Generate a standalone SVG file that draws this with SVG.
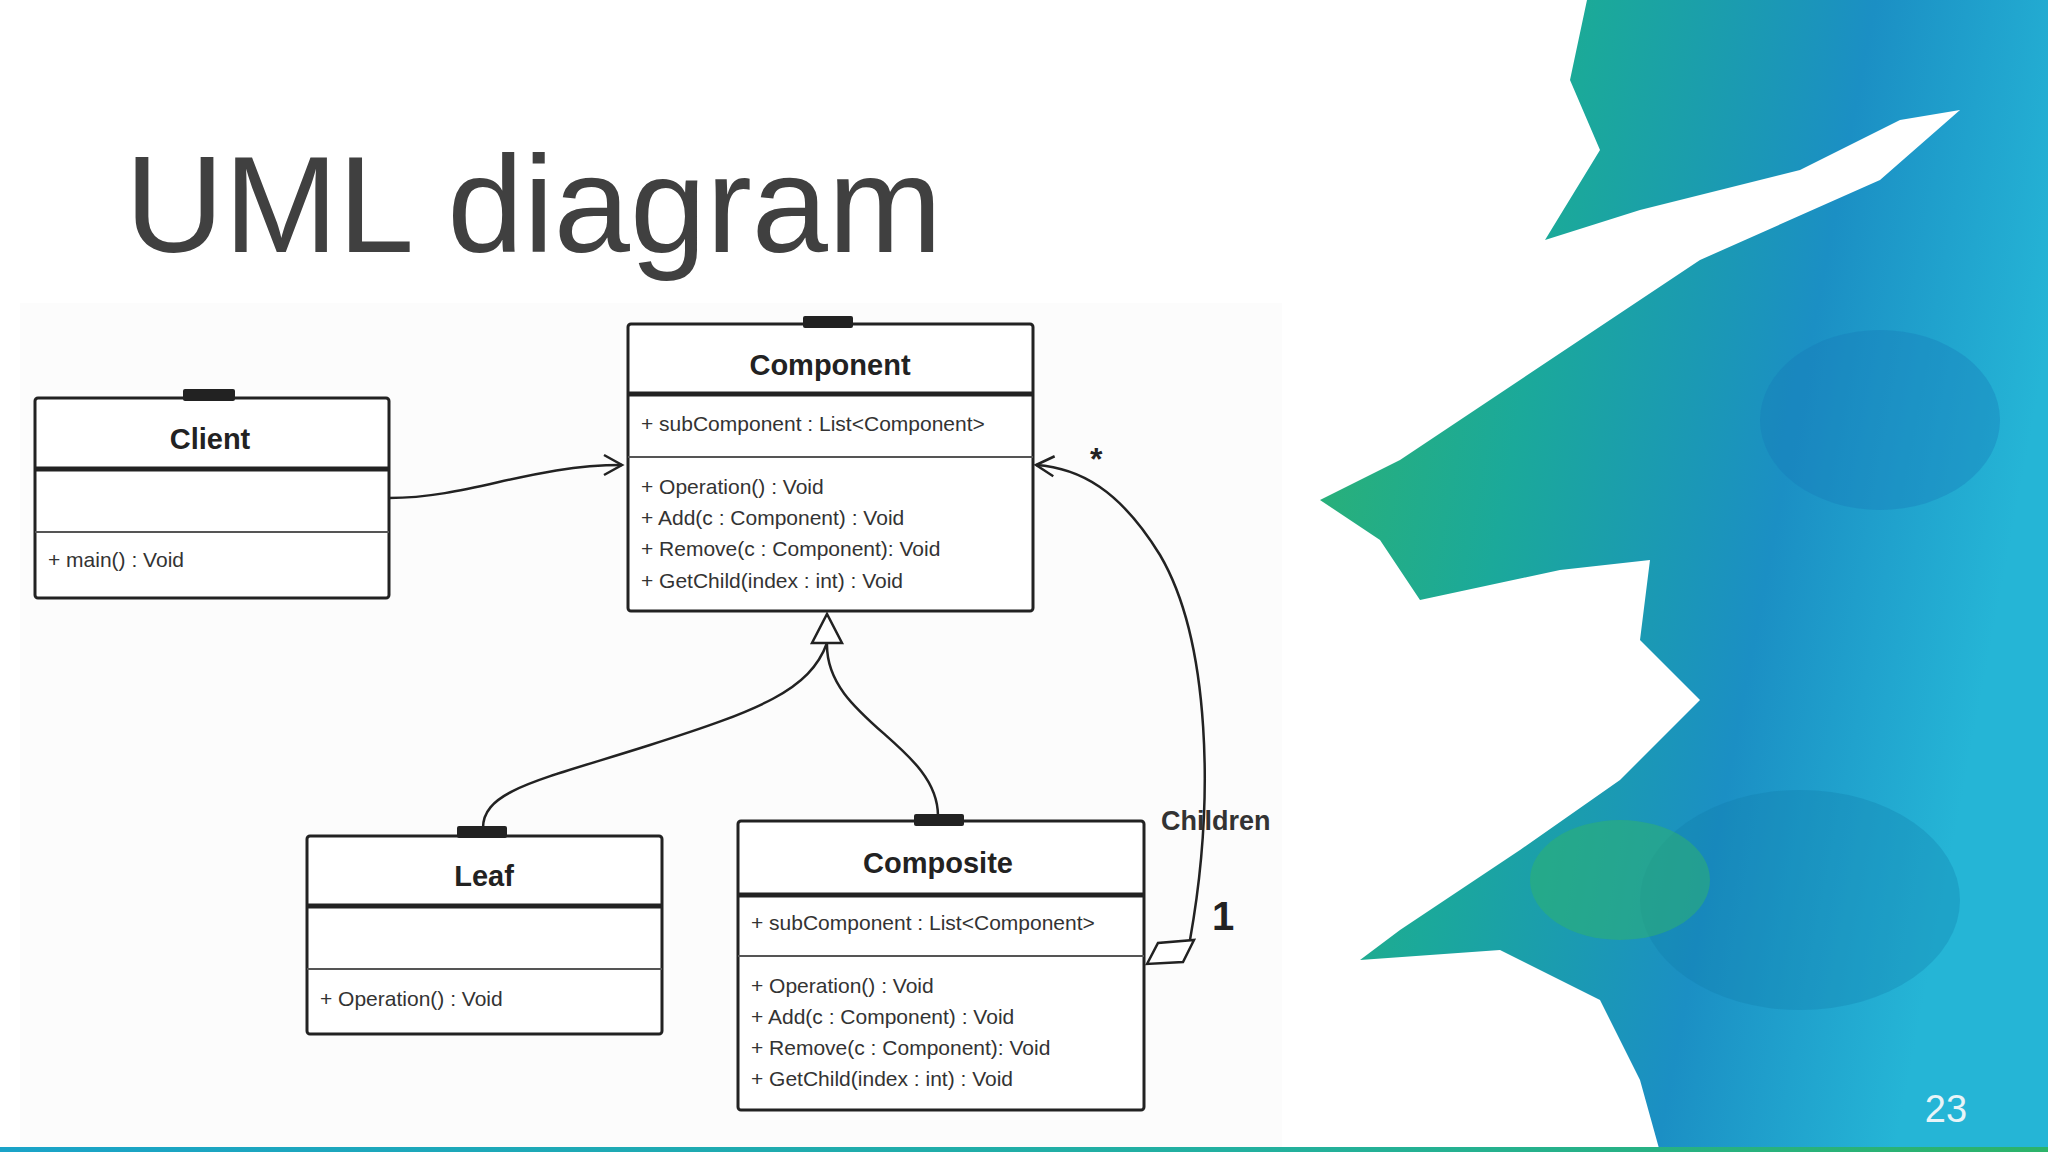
<svg xmlns="http://www.w3.org/2000/svg" width="2048" height="1152" viewBox="0 0 2048 1152">
<defs>
<linearGradient id="wc" x1="0" y1="0" x2="1" y2="0.3">
<stop offset="0" stop-color="#2fb36a"/>
<stop offset="0.35" stop-color="#1ba99a"/>
<stop offset="0.7" stop-color="#1b8fc4"/>
<stop offset="1" stop-color="#25b5d6"/>
</linearGradient>
<linearGradient id="bar" x1="0" y1="0" x2="1" y2="0">
<stop offset="0" stop-color="#1aa3c8"/>
<stop offset="0.6" stop-color="#22b0a0"/>
<stop offset="1" stop-color="#2cb36a"/>
</linearGradient>
<marker id="open" markerWidth="24" markerHeight="24" refX="20" refY="12" orient="auto" markerUnits="userSpaceOnUse">
<path d="M2,2 L20,12 L2,22" fill="none" stroke="#222" stroke-width="2.5"/>
</marker>
<style>
.box{fill:#fff;stroke:#222;stroke-width:3}
.hd{stroke:#222;stroke-width:5}
.sp{stroke:#555;stroke-width:2}
.tab{fill:#222}
.ttl{font-family:"Liberation Sans",Arial,sans-serif;font-weight:bold;font-size:29px;fill:#222;text-anchor:middle}
.mt{font-family:"Liberation Sans",Arial,sans-serif;font-size:21px;fill:#333}
.ln{fill:none;stroke:#222;stroke-width:2.5}
</style>
</defs>
<rect width="2048" height="1152" fill="#fff"/>
<g id="splash">
<path d="M1587,0 L1570,80 L1600,150 L1545,240 L1640,210 L1800,170 L1900,120 L1960,110 L1880,180 L1700,260 L1520,380 L1400,460 L1320,500 L1380,540 L1420,600 L1560,570 L1650,560 L1640,640 L1700,700 L1620,780 L1520,850 L1400,930 L1360,960 L1500,950 L1600,1000 L1640,1080 L1660,1152 L2048,1152 L2048,0 Z" fill="url(#wc)"/>
<ellipse cx="1880" cy="420" rx="120" ry="90" fill="#1678b8" opacity="0.35"/>
<ellipse cx="1800" cy="900" rx="160" ry="110" fill="#127aa8" opacity="0.3"/>
<ellipse cx="1620" cy="880" rx="90" ry="60" fill="#2fb36a" opacity="0.5"/>
</g>
<rect x="0" y="1147" width="2048" height="5" fill="url(#bar)"/>
<text x="1946" y="1122" font-family="Liberation Sans,Arial,sans-serif" font-size="38" fill="#e8f4f8" text-anchor="middle">23</text>
<text x="125" y="252" font-family="Liberation Sans,Arial,sans-serif" font-size="137" fill="#404040">UML diagram</text>
<rect x="20" y="303" width="1262" height="844" fill="#fcfcfc"/>
<g id="connectors">
<path class="ln" d="M389,498 C470,498 530,465 622,465" marker-end="url(#open)"/>
<path class="ln" d="M827,643 C810,690 760,710 650,745 C540,780 483,790 483,828"/>
<path class="ln" d="M827,643 C825,720 938,745 938,816"/>
<polygon points="812,643 842,643 827,614" fill="#fff" stroke="#222" stroke-width="2.5"/>
<path class="ln" d="M1190,940 C1215,800 1210,640 1160,555 C1120,490 1080,468 1036,465" marker-end="url(#open)"/>
<polygon points="1147,964 1158,943 1194,940 1183,962" fill="#fff" stroke="#222" stroke-width="2.5"/>
<text x="1090" y="470" font-family="Liberation Sans,Arial,sans-serif" font-weight="bold" font-size="32" fill="#222">*</text>
<text x="1161" y="830" font-family="Liberation Sans,Arial,sans-serif" font-weight="bold" font-size="27" fill="#333">Children</text>
<text x="1212" y="930" font-family="Liberation Sans,Arial,sans-serif" font-weight="bold" font-size="40" fill="#222">1</text>
</g>
<g id="client">
<rect class="box" x="35" y="398" width="354" height="200" rx="3"/>
<line class="hd" x1="35" y1="469" x2="389" y2="469"/>
<line class="sp" x1="35" y1="532" x2="389" y2="532"/>
<rect class="tab" x="183" y="389" width="52" height="12" rx="2"/>
<text class="ttl" x="210" y="449">Client</text>
<text class="mt" x="48" y="567">+ main() : Void</text>
</g>
<g id="component">
<rect class="box" x="628" y="324" width="405" height="287" rx="3"/>
<line class="hd" x1="628" y1="394" x2="1033" y2="394"/>
<line class="sp" x1="628" y1="457" x2="1033" y2="457"/>
<rect class="tab" x="803" y="316" width="50" height="12" rx="2"/>
<text class="ttl" x="830" y="375">Component</text>
<text class="mt" x="641" y="431">+ subComponent : List&lt;Component&gt;</text>
<text class="mt" x="641" y="494">+ Operation() : Void</text>
<text class="mt" x="641" y="525">+ Add(c : Component) : Void</text>
<text class="mt" x="641" y="556">+ Remove(c : Component): Void</text>
<text class="mt" x="641" y="588">+ GetChild(index : int) : Void</text>
</g>
<g id="leaf">
<rect class="box" x="307" y="836" width="355" height="198" rx="3"/>
<line class="hd" x1="307" y1="906" x2="662" y2="906"/>
<line class="sp" x1="307" y1="969" x2="662" y2="969"/>
<rect class="tab" x="457" y="826" width="50" height="12" rx="2"/>
<text class="ttl" x="484" y="886">Leaf</text>
<text class="mt" x="320" y="1006">+ Operation() : Void</text>
</g>
<g id="composite">
<rect class="box" x="738" y="821" width="406" height="289" rx="3"/>
<line class="hd" x1="738" y1="895" x2="1144" y2="895"/>
<line class="sp" x1="738" y1="956" x2="1144" y2="956"/>
<rect class="tab" x="914" y="814" width="50" height="12" rx="2"/>
<text class="ttl" x="938" y="873">Composite</text>
<text class="mt" x="751" y="930">+ subComponent : List&lt;Component&gt;</text>
<text class="mt" x="751" y="993">+ Operation() : Void</text>
<text class="mt" x="751" y="1024">+ Add(c : Component) : Void</text>
<text class="mt" x="751" y="1055">+ Remove(c : Component): Void</text>
<text class="mt" x="751" y="1086">+ GetChild(index : int) : Void</text>
</g>
</svg>
